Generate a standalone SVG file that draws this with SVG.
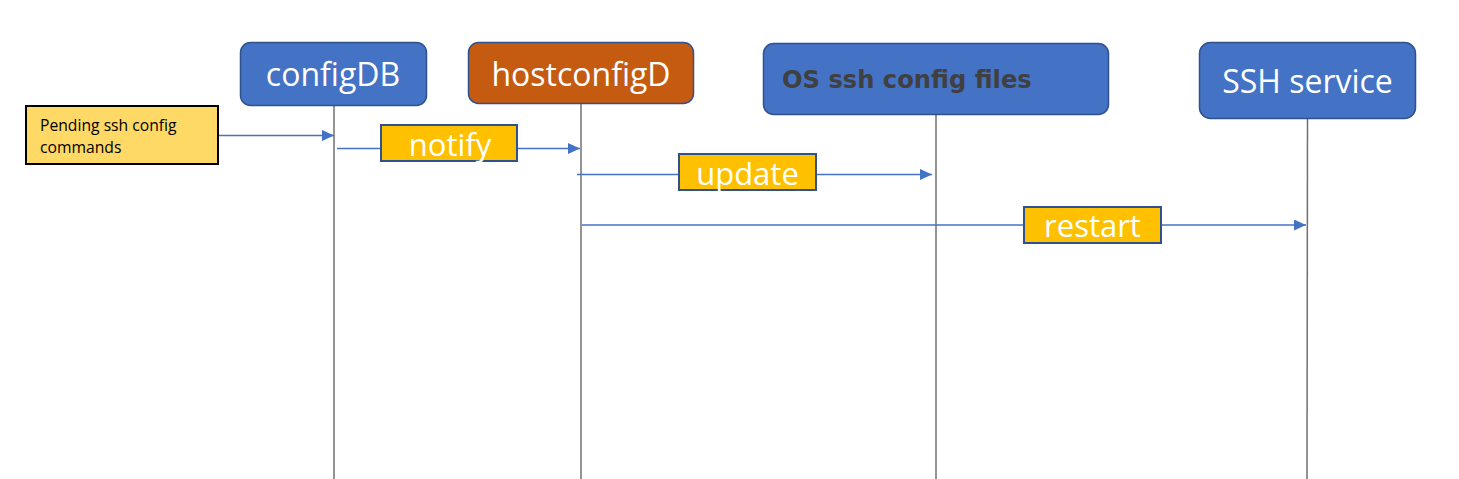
<svg xmlns="http://www.w3.org/2000/svg" width="1459" height="479" viewBox="0 0 1459 479">
<style>
.hdr{fill:#4472C4;stroke:#2F528F;stroke-width:1.5}
.hname{font-family:"Open Sans",sans-serif;font-size:32px;fill:#FFFFFF;text-anchor:middle}
.life{stroke:#707070;stroke-width:1.5;fill:none}
.msg{stroke:#4472C4;stroke-width:1.3;fill:none}
.lbl{fill:#FFC000;stroke:#2F528F;stroke-width:2}
.ltxt{font-family:"Open Sans",sans-serif;font-size:31px;fill:#FFFFFF;text-anchor:middle}
</style>
<defs>
<marker id="ah" markerUnits="userSpaceOnUse" markerWidth="12" markerHeight="11" refX="12" refY="5.5" orient="auto">
<path d="M0,0 L12,5.5 L0,11 z" fill="#4472C4"/>
</marker>
</defs>
<rect width="1459" height="479" fill="#FFFFFF"/>
<g id="lifelines">
<line class="life" x1="334" y1="106" x2="334" y2="479"/>
<line class="life" x1="581" y1="104" x2="581" y2="479"/>
<line class="life" x1="936" y1="114" x2="936" y2="479"/>
<line class="life" x1="1307.5" y1="119" x2="1307" y2="479"/>
</g>
<g id="pending">
<rect x="26" y="106" width="192" height="58" fill="#FFD966" stroke="#000000" stroke-width="2"/>
<text x="40" y="130.5" font-family="'Open Sans',sans-serif" font-size="15.7" fill="#000000">Pending ssh config</text>
<text x="40" y="152.5" font-family="'Open Sans',sans-serif" font-size="15.7" fill="#000000">commands</text>
</g>
<g id="configDB">
<rect class="hdr" x="240.5" y="42.5" width="186" height="63" rx="10"/>
<text class="hname" x="333" y="86">configDB</text>
</g>
<g id="hostconfigD">
<rect x="468.5" y="42.5" width="225" height="61" rx="10" fill="#C55A11" stroke="#2F528F" stroke-width="1.5"/>
<text class="hname" x="581" y="86">hostconfigD</text>
</g>
<g id="osfiles">
<rect class="hdr" x="763.5" y="43.5" width="345" height="71" rx="10"/>
<text x="782" y="88" font-family="'DejaVu Sans',sans-serif" font-weight="bold" font-size="24.2" fill="#404040">OS ssh config files</text>
</g>
<g id="sshservice">
<rect class="hdr" x="1199.5" y="42.5" width="216" height="76" rx="11"/>
<text class="hname" x="1307.5" y="93">SSH service</text>
</g>
<g id="connectors">
<line class="msg" x1="219" y1="135.5" x2="334" y2="135.5" marker-end="url(#ah)"/>
<line class="msg" x1="337" y1="148.5" x2="580" y2="148.5" marker-end="url(#ah)"/>
<line class="msg" x1="577" y1="174.5" x2="932" y2="174.5" marker-end="url(#ah)"/>
<line class="msg" x1="582" y1="225" x2="1306" y2="225" marker-end="url(#ah)"/>
<rect class="lbl" x="381" y="125" width="136" height="36"/>
<text class="ltxt" x="450" y="156">notify</text>
<rect class="lbl" x="679" y="154" width="137" height="36"/>
<text class="ltxt" x="747.5" y="185">update</text>
<rect class="lbl" x="1024" y="207" width="137" height="36"/>
<text class="ltxt" x="1092.5" y="237">restart</text>
</g>
</svg>
